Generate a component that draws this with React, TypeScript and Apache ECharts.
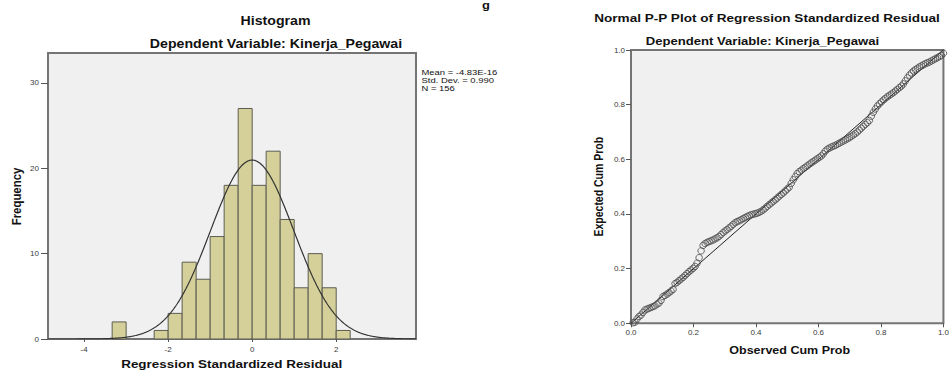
import React, { useEffect, useRef } from "react";
import * as echarts from "echarts";

// ---------- Histogram data ----------
const binLower = [-3.333, -2.333, -2.0, -1.667, -1.333, -1.0, -0.667, -0.333, 0.0, 0.333, 0.667, 1.0, 1.333, 1.667, 2.0];
const binCounts = [2, 1, 3, 9, 7, 12, 18, 27, 18, 22, 14, 6, 10, 6, 1];
const binWidth = 1 / 3;
const histMean = -4.83e-16;
const histStd = 0.99;
const histN = 156;
const histXTicks = [-4, -2, 0, 2];
const histYTicks = [0, 10, 20, 30];
const statLines = ["Mean = -4.83E-16", "Std. Dev. = 0.990", "N = 156"];

// ---------- P-P plot data (expected cum prob, in order of observed cum prob) ----------
const ppTicks = [0, 0.2, 0.4, 0.6, 0.8, 1.0];
const ppExpected = [
  0.002, 0.004, 0.016, 0.025, 0.030, 0.040, 0.049, 0.052, 0.055, 0.058, 0.061, 0.064,
  0.070, 0.074, 0.084, 0.098, 0.102, 0.107, 0.112, 0.118, 0.124, 0.145, 0.150, 0.156,
  0.162, 0.168, 0.175, 0.182, 0.189, 0.195, 0.201, 0.208, 0.220, 0.240, 0.265, 0.285,
  0.292, 0.296, 0.299, 0.302, 0.305, 0.309, 0.313, 0.318, 0.325, 0.332, 0.338, 0.343,
  0.349, 0.355, 0.362, 0.368, 0.372, 0.375, 0.379, 0.383, 0.387, 0.391, 0.394, 0.397,
  0.399, 0.401, 0.403, 0.406, 0.410, 0.415, 0.421, 0.428, 0.434, 0.440, 0.446, 0.452,
  0.458, 0.465, 0.471, 0.477, 0.484, 0.491, 0.498, 0.512, 0.525, 0.536, 0.548, 0.555,
  0.560, 0.566, 0.571, 0.576, 0.582, 0.587, 0.592, 0.597, 0.602, 0.607, 0.612, 0.620,
  0.630, 0.637, 0.641, 0.645, 0.648, 0.651, 0.655, 0.659, 0.663, 0.667, 0.671, 0.675,
  0.679, 0.684, 0.689, 0.694, 0.700, 0.707, 0.714, 0.721, 0.728, 0.734, 0.742, 0.758,
  0.772, 0.784, 0.795, 0.803, 0.810, 0.817, 0.823, 0.829, 0.834, 0.839, 0.844, 0.850,
  0.856, 0.862, 0.868, 0.876, 0.887, 0.898, 0.908, 0.916, 0.923, 0.928, 0.933, 0.938,
  0.942, 0.946, 0.950, 0.953, 0.956, 0.960, 0.964, 0.968, 0.972, 0.976, 0.980, 0.988,
];

const FONT = "'Liberation Sans', Arial, Helvetica, sans-serif";
const SX = 1.18; // horizontal stretch of the original image

function normalCurve(): number[][] {
  const pts: number[][] = [];
  const scale = histN * binWidth;
  for (let x = -4.86; x <= 3.9001; x += 0.02) {
    const z = (x - histMean) / histStd;
    pts.push([x, (scale * Math.exp(-0.5 * z * z)) / (histStd * Math.sqrt(2 * Math.PI))]);
  }
  return pts;
}

function hText(text: string, x: number, y: number, size: number, bold = true, align = "center") {
  return {
    type: "text",
    x,
    y,
    scaleX: SX,
    silent: true,
    style: {
      text,
      fill: "#111",
      fontSize: size,
      fontWeight: bold ? "bold" : "normal",
      fontFamily: FONT,
      align,
      verticalAlign: "middle",
    },
  };
}

function vText(text: string, x: number, y: number, size: number) {
  return {
    type: "text",
    x,
    y,
    rotation: Math.PI / 2,
    scaleY: SX,
    silent: true,
    style: {
      text,
      fill: "#111",
      fontSize: size,
      fontWeight: "bold",
      fontFamily: FONT,
      align: "center",
      verticalAlign: "middle",
    },
  };
}

export default function App() {
  const ref = useRef<HTMLDivElement>(null);

  useEffect(() => {
    if (!ref.current) return;
    const chart = echarts.init(ref.current, null, { renderer: "svg" });

    const labelStyle = { fontSize: 8, color: "#3a3a3a", fontFamily: FONT };
    const tickLine = { color: "#555", width: 1 };
    const hiddenLine = { show: false, onZero: false };

    const option: any = {
      animation: false,
      grid: [
        {
          left: 48,
          top: 53,
          width: 368,
          height: 286,
          show: true,
          backgroundColor: "#f0f0f0",
          borderColor: "#747474",
          borderWidth: 2,
        },
        {
          left: 631,
          top: 50,
          width: 317.5,
          height: 273.3,
          show: true,
          backgroundColor: "#f0f0f0",
          borderColor: "#747474",
          borderWidth: 2,
        },
      ],
      xAxis: [
        {
          type: "value",
          gridIndex: 0,
          position: "bottom",
          min: -4.86,
          max: 3.9,
          axisLine: hiddenLine,
          splitLine: { show: false },
          axisTick: { show: true, customValues: histXTicks, length: 3, lineStyle: tickLine },
          axisLabel: { ...labelStyle, customValues: histXTicks, margin: 6 },
        },
        {
          type: "value",
          gridIndex: 1,
          position: "bottom",
          min: 0,
          max: 1,
          interval: 0.2,
          axisLine: hiddenLine,
          splitLine: { show: false },
          axisTick: { show: true, customValues: ppTicks, length: 4, lineStyle: tickLine },
          axisLabel: {
            ...labelStyle,
            customValues: ppTicks,
            margin: 5,
            formatter: (v: number) => v.toFixed(1),
          },
        },
      ],
      yAxis: [
        {
          type: "value",
          gridIndex: 0,
          position: "left",
          min: 0,
          max: 33.5,
          axisLine: hiddenLine,
          splitLine: { show: false },
          axisTick: { show: true, customValues: histYTicks, length: 7, lineStyle: tickLine },
          axisLabel: { ...labelStyle, customValues: histYTicks, margin: 9 },
        },
        {
          type: "value",
          gridIndex: 1,
          position: "left",
          min: 0,
          max: 1,
          interval: 0.2,
          axisLine: hiddenLine,
          splitLine: { show: false },
          axisTick: { show: true, customValues: ppTicks, length: 5, lineStyle: tickLine },
          axisLabel: {
            ...labelStyle,
            customValues: ppTicks,
            margin: 6,
            formatter: (v: number) => v.toFixed(1),
          },
        },
      ],
      series: [
        {
          type: "custom",
          xAxisIndex: 0,
          yAxisIndex: 0,
          data: binLower.map((lo, i) => [lo, lo + binWidth, binCounts[i]]),
          encode: { x: [0, 1], y: 2 },
          renderItem: (params: any, api: any) => {
            const p0 = api.coord([api.value(0), api.value(2)]);
            const p1 = api.coord([api.value(1), 0]);
            return {
              type: "rect",
              shape: { x: p0[0], y: p0[1], width: p1[0] - p0[0], height: p1[1] - p0[1] },
              style: { fill: "#d5d09a", stroke: "#5c5c52", lineWidth: 1 },
            };
          },
          z: 2,
        },
        {
          type: "line",
          xAxisIndex: 0,
          yAxisIndex: 0,
          data: normalCurve(),
          showSymbol: false,
          symbol: "none",
          lineStyle: { color: "#333", width: 1.2 },
          clip: true,
          z: 3,
        },
        {
          type: "line",
          xAxisIndex: 1,
          yAxisIndex: 1,
          data: [
            [0, 0],
            [1, 1],
          ],
          symbol: "none",
          lineStyle: { color: "#222", width: 1 },
          z: 2,
        },
        {
          type: "scatter",
          xAxisIndex: 1,
          yAxisIndex: 1,
          data: ppExpected.map((y, i) => [(i + 1) / histN, y]),
          symbol: "circle",
          symbolSize: 6.5,
          itemStyle: { color: "rgba(255,255,255,0)", borderColor: "#4a4a4a", borderWidth: 1 },
          z: 3,
        },
      ],
      graphic: [
        hText("g", 486, 5, 11),
        hText("Histogram", 275.5, 20.5, 12),
        hText("Dependent Variable: Kinerja_Pegawai", 276, 43.5, 12),
        hText(statLines[0], 421.5, 72.5, 8, false, "left"),
        hText(statLines[1], 421.5, 80.5, 8, false, "left"),
        hText(statLines[2], 421.5, 88.5, 8, false, "left"),
        vText("Frequency", 16.5, 196.5, 11.4),
        hText("Regression Standardized Residual", 231.7, 364.5, 11.4),
        hText("Normal P-P Plot of Regression Standardized Residual", 767, 18.5, 11.5),
        hText("Dependent Variable: Kinerja_Pegawai", 762.5, 41.5, 11.1),
        vText("Expected Cum Prob", 598.5, 186.7, 10.5),
        hText("Observed Cum Prob", 789.7, 350, 10.6),
      ],
    };

    chart.setOption(option);
    return () => chart.dispose();
  }, []);

  return (
    <div
      ref={ref}
      style={{ position: "fixed", left: 0, top: 0, width: 952, height: 371, background: "#fff" }}
    />
  );
}
